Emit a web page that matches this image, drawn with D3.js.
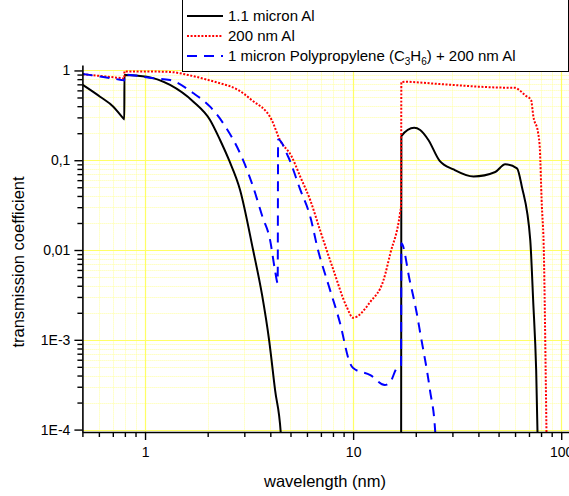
<!DOCTYPE html>
<html>
<head>
<meta charset="utf-8">
<script src="https://cdn.jsdelivr.net/npm/d3@7"></script>
<style>
  body { margin: 0; background: #fff; }
  svg { display: block; font-family: "Liberation Sans", Arial, sans-serif; }
</style>
</head>
<body>
<svg id="chart" width="569" height="496"></svg>
<script>
// Filter transmission versus wavelength (log-log)

// 1.1 micron Al
const al11Wavelength = [0.502, 0.608, 0.704, 0.786, 0.795, 0.796, 1.019, 1.319, 1.707, 2.053, 2.294, 2.534, 2.862, 3.306, 3.651, 3.945, 4.217, 4.5, 4.7,
  17.0, 17.05, 19.65, 21.0, 23.0, 26.0, 30.4, 37.9, 48.2, 53.8, 61.3, 64.7, 71.0, 73.3, 75.8, 78.5];
const al11Transmission = [0.69, 0.51, 0.395, 0.293, 0.285, 0.89, 0.853, 0.69, 0.449, 0.281, 0.168, 0.1, 0.0467, 0.01, 0.00316, 0.001, 2.75e-4, 8.5e-5, 1e-5,
  1e-5, 0.186, 0.23, 0.217, 0.168, 0.099, 0.079, 0.066, 0.074, 0.09, 0.0813, 0.0507, 0.0129, 0.00277, 4.6e-4, 1e-5];

// 200 nm Al
const al200Wavelength = [0.502, 0.608, 0.773, 0.795, 0.796, 1.0, 1.319, 1.61, 2.01, 2.294, 2.8, 3.25, 4.06, 4.45, 5.07, 5.57, 6.22, 6.93, 8.04, 9.31, 10.0,
  12.1, 14.0, 15.1, 16.8, 17.0, 17.05, 18.0, 20.0, 25.0, 30.0, 40.0, 50.0, 60.0, 62.6, 67.0, 71.6, 73.5, 77.5, 79.0, 80.5, 82.6, 84.3, 86.0];
const al200Transmission = [0.907, 0.868, 0.818, 0.81, 0.975, 0.975, 0.962, 0.891, 0.784, 0.72, 0.607, 0.469, 0.281, 0.168, 0.1096, 0.0656, 0.036, 0.0167, 0.006, 0.00233, 0.00176,
  0.00265, 0.00463, 0.0092, 0.0258, 0.032, 0.74, 0.75, 0.74, 0.71, 0.69, 0.66, 0.645, 0.64, 0.61, 0.53, 0.47, 0.306, 0.2, 0.13, 0.036, 0.0085, 3.6e-4, 1e-5];

// 1 micron polypropylene + 200 nm Al
const ppWavelength = [0.502, 0.608, 0.77, 0.795, 0.796, 1.096, 1.319, 1.70, 2.053, 2.37, 2.96, 3.31, 3.67, 3.99, 4.21, 4.34, 4.36, 4.87, 5.57, 6.22, 6.78,
  7.61, 8.65, 9.66, 10.0, 12.1, 14.2, 15.1, 16.2, 16.8, 17.0, 17.05, 18.7, 20.2, 21.0, 23.4, 24.8, 25.4];
const ppTransmission = [0.914, 0.857, 0.784, 0.775, 0.9, 0.818, 0.784, 0.561, 0.395, 0.26, 0.1, 0.0503, 0.0233, 0.0129, 0.006, 0.0043, 0.17, 0.11, 0.047, 0.0236, 0.01,
  0.0041, 0.00154, 5.5e-4, 4.84e-4, 4.04e-4, 3.13e-4, 3.4e-4, 4.8e-4, 5e-4, 5.2e-4, 0.0119, 0.0046, 0.002, 0.0012, 2.75e-4, 9.5e-5, 1e-5];

const seriesNames = ["1.1 micron Al", "200 nm Al", "1 micron Polypropylene"];
const xTickValues = [1, 10, 100];
const xTickLabels = ["1", "10", "100"];
const xMinorValues = [0.5, 0.6, 0.7, 0.8, 0.9, 2, 3, 4, 5, 6, 7, 8, 9, 20, 30, 40, 50, 60, 70, 80, 90];
const yTickValues = [1e-4, 1e-3, 1e-2, 1e-1, 1];
const yTickLabels = ["1E-4", "1E-3", "0,01", "0,1", "1"];
const yMinorValues = [];
[1e-4, 1e-3, 1e-2, 1e-1].forEach(d => { for (let k = 2; k <= 9; k++) yMinorValues.push(d * k); });

const svg = d3.select("#chart");
const plotLeft = 82.4, plotRight = 569, plotTop = 65, plotBottom = 432;

const x = d3.scaleLog().domain([0.5, 109]).range([plotLeft, plotRight]);
const y = d3.scaleLog().domain([9.4e-5, 1.15]).range([plotBottom, plotTop]);

const gridTop = y(1);

// grid
const grid = svg.append("g");
grid.selectAll(".ymin").data(yMinorValues).join("line")
  .attr("x1", plotLeft).attr("x2", plotRight)
  .attr("y1", d => Math.round(y(d)) + 0.5).attr("y2", d => Math.round(y(d)) + 0.5)
  .attr("stroke", "#ffffa0").attr("stroke-width", 1).attr("stroke-dasharray", "1,1");
grid.selectAll(".xmin").data(xMinorValues.filter(d => d > 0.5)).join("line")
  .attr("x1", d => Math.round(x(d)) + 0.5).attr("x2", d => Math.round(x(d)) + 0.5)
  .attr("y1", gridTop).attr("y2", plotBottom)
  .attr("stroke", "#ffffa0").attr("stroke-width", 1).attr("stroke-dasharray", "1,1");
grid.selectAll(".ymaj").data(yTickValues).join("line")
  .attr("x1", plotLeft).attr("x2", plotRight)
  .attr("y1", d => Math.round(y(d)) + 0.5).attr("y2", d => Math.round(y(d)) + 0.5)
  .attr("stroke", "#ffff66").attr("stroke-width", 1.2);
grid.selectAll(".xmaj").data(xTickValues).join("line")
  .attr("x1", d => Math.round(x(d)) + 0.5).attr("x2", d => Math.round(x(d)) + 0.5)
  .attr("y1", gridTop).attr("y2", plotBottom)
  .attr("stroke", "#ffff66").attr("stroke-width", 1.2);

// curves
svg.append("clipPath").attr("id", "plotClip").append("rect")
  .attr("x", plotLeft).attr("y", plotTop).attr("width", plotRight - plotLeft).attr("height", plotBottom - plotTop);

const line = d3.line().x(d => x(d[0])).y(d => y(d[1])).curve(d3.curveMonotoneX);

const curves = svg.append("g").attr("clip-path", "url(#plotClip)");
const series = [
  { w: al11Wavelength, t: al11Transmission, color: "#000000", dash: null, width: 2 },
  { w: al200Wavelength, t: al200Transmission, color: "#ff0000", dash: "2,1.6", width: 2 },
  { w: ppWavelength, t: ppTransmission, color: "#0000ff", dash: "10,7", width: 2 }
];
series.forEach(s => {
  curves.append("path")
    .datum(s.w.map((w, i) => [w, s.t[i]]))
    .attr("d", line)
    .attr("fill", "none")
    .attr("stroke", s.color)
    .attr("stroke-width", s.width)
    .attr("stroke-dasharray", s.dash);
});

// axes
const axisStyle = g => {
  g.selectAll("path.domain").attr("stroke", "#000").attr("stroke-width", 1.6);
  g.selectAll(".tick line").attr("stroke", "#000").attr("stroke-width", 1.4);
  g.selectAll(".tick text").attr("fill", "#000").attr("font-size", 14)
    .attr("font-family", '"Liberation Sans", Arial, sans-serif');
};

svg.append("g").attr("transform", `translate(0,${plotBottom})`)
  .call(d3.axisBottom(x).tickValues(xMinorValues).tickSize(5).tickSizeOuter(0).tickFormat(""))
  .call(g => g.select(".domain").remove())
  .call(axisStyle);
svg.append("g").attr("transform", `translate(${plotLeft},0)`)
  .call(d3.axisLeft(y).tickValues(yMinorValues).tickSize(5).tickSizeOuter(0).tickFormat(""))
  .call(g => g.select(".domain").remove())
  .call(axisStyle);

svg.append("g").attr("transform", `translate(0,${plotBottom})`)
  .call(d3.axisBottom(x).tickValues(xTickValues).tickSize(8).tickPadding(7).tickSizeOuter(0)
    .tickFormat((d, i) => xTickLabels[i]))
  .call(axisStyle);
svg.append("g").attr("transform", `translate(${plotLeft},0)`)
  .call(d3.axisLeft(y).tickValues(yTickValues).tickSize(8).tickPadding(4).tickSizeOuter(0)
    .tickFormat((d, i) => yTickLabels[i]))
  .call(axisStyle);

// axis titles
svg.append("text").attr("x", 325).attr("y", 487).attr("text-anchor", "middle")
  .attr("font-size", 16.5).text("wavelength (nm)");
svg.append("text").attr("transform", "translate(24,262) rotate(-90)").attr("text-anchor", "middle")
  .attr("font-size", 16.5).text("transmission coefficient");

// legend
const lg = svg.append("g");
lg.append("rect").attr("x", 182.5).attr("y", -2).attr("width", 386).attr("height", 73.5)
  .attr("fill", "#fff").attr("stroke", "#000").attr("stroke-width", 1);
const rowY = [16, 36, 56];
series.forEach((s, i) => {
  lg.append("line").attr("x1", 187).attr("x2", 223).attr("y1", rowY[i]).attr("y2", rowY[i])
    .attr("stroke", s.color).attr("stroke-width", s.width).attr("stroke-dasharray", s.dash);
});
lg.append("text").attr("x", 228).attr("y", rowY[0] + 5).attr("font-size", 15).text(seriesNames[0]);
lg.append("text").attr("x", 228).attr("y", rowY[1] + 5).attr("font-size", 15).text(seriesNames[1]);
const t3 = lg.append("text").attr("x", 228).attr("y", rowY[2] + 5).attr("font-size", 15);
t3.append("tspan").text(seriesNames[2] + " (C");
t3.append("tspan").attr("font-size", 10).attr("dy", 4).text("3");
t3.append("tspan").attr("dy", -4).text("H");
t3.append("tspan").attr("font-size", 10).attr("dy", 4).text("6");
t3.append("tspan").attr("dy", -4).text(") + 200 nm Al");
</script>
</body>
</html>
